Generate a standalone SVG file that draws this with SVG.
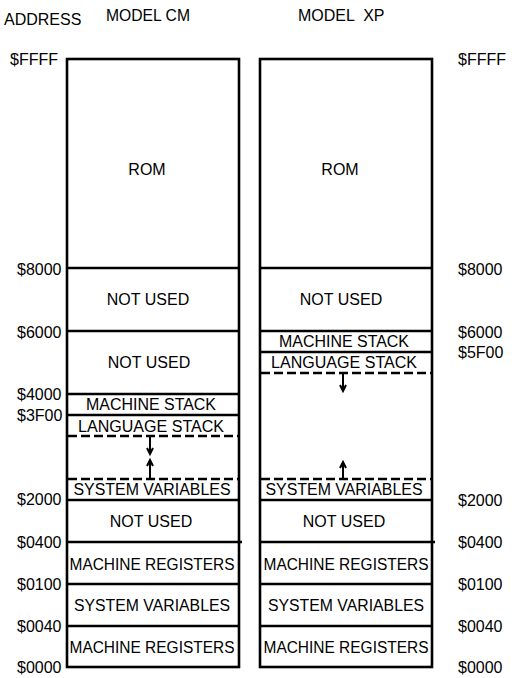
<svg xmlns="http://www.w3.org/2000/svg" width="520" height="678" viewBox="0 0 520 678">
<style>
text{font-family:"Liberation Sans",Arial,sans-serif;font-size:16px;fill:#000;white-space:pre}
.c{text-anchor:middle}
.ln{stroke:#000;stroke-width:2.5;fill:none}
.box{stroke:#000;stroke-width:2.6;fill:#fff}
.dash{stroke:#000;stroke-width:2.5;stroke-dasharray:9 4;fill:none}
.arr{stroke:#000;stroke-width:2;fill:none}
</style>
<rect width="520" height="678" fill="#fff"/>
<g id="headers">
<text x="4" y="25">ADDRESS</text>
<text x="106" y="21" textLength="84" lengthAdjust="spacingAndGlyphs">MODEL CM</text>
<text x="298" y="21">MODEL  XP</text>
</g>
<g id="addr-left">
<text x="10" y="65">$FFFF</text>
<text x="17" y="275">$8000</text>
<text x="17" y="338">$6000</text>
<text x="17" y="400">$4000</text>
<text x="17" y="421">$3F00</text>
<text x="17" y="505">$2000</text>
<text x="17" y="548">$0400</text>
<text x="17" y="590">$0100</text>
<text x="17" y="632">$0040</text>
<text x="17" y="673">$0000</text>
</g>
<g id="addr-right">
<text x="458" y="65">$FFFF</text>
<text x="458" y="275">$8000</text>
<text x="458" y="338">$6000</text>
<text x="458" y="358">$5F00</text>
<text x="458" y="506">$2000</text>
<text x="458" y="548">$0400</text>
<text x="458" y="590">$0100</text>
<text x="458" y="632">$0040</text>
<text x="458" y="673">$0000</text>
</g>
<g id="model-cm">
<rect class="box" x="67" y="59" width="172" height="608"/>
<path class="ln" d="M67 268H239M67 331H239M67 394H239M67 415H239M67 500H239M67 542H242M67 584H239M67 626H239"/>
<path class="dash" d="M68 436H238M68 479H238"/>
<text class="c" x="147" y="175">ROM</text>
<text class="c" x="148" y="305">NOT USED</text>
<text class="c" x="149" y="368">NOT USED</text>
<text class="c" x="151" y="410" textLength="130" lengthAdjust="spacingAndGlyphs">MACHINE STACK</text>
<text class="c" x="151" y="432" textLength="146" lengthAdjust="spacingAndGlyphs">LANGUAGE STACK</text>
<text class="c" x="152" y="495" textLength="157" lengthAdjust="spacingAndGlyphs">SYSTEM VARIABLES</text>
<text class="c" x="151" y="527">NOT USED</text>
<text class="c" x="152" y="570" textLength="165" lengthAdjust="spacingAndGlyphs">MACHINE REGISTERS</text>
<text class="c" x="152" y="611" textLength="156" lengthAdjust="spacingAndGlyphs">SYSTEM VARIABLES</text>
<text class="c" x="152" y="653" textLength="165" lengthAdjust="spacingAndGlyphs">MACHINE REGISTERS</text>
</g>
<g id="model-xp">
<rect class="box" x="260" y="59" width="172" height="608"/>
<path class="ln" d="M260 268H432M260 331H432M260 352H432M260 500H432M260 542H435M260 584H432M260 626H432"/>
<path class="dash" d="M261 373H431M261 479H431"/>
<text class="c" x="340" y="175">ROM</text>
<text class="c" x="341" y="305">NOT USED</text>
<text class="c" x="344" y="347" textLength="130" lengthAdjust="spacingAndGlyphs">MACHINE STACK</text>
<text class="c" x="344" y="368" textLength="146" lengthAdjust="spacingAndGlyphs">LANGUAGE STACK</text>
<text class="c" x="344" y="495" textLength="157" lengthAdjust="spacingAndGlyphs">SYSTEM VARIABLES</text>
<text class="c" x="344" y="527">NOT USED</text>
<text class="c" x="346" y="570" textLength="165" lengthAdjust="spacingAndGlyphs">MACHINE REGISTERS</text>
<text class="c" x="346" y="611" textLength="156" lengthAdjust="spacingAndGlyphs">SYSTEM VARIABLES</text>
<text class="c" x="346" y="653" textLength="165" lengthAdjust="spacingAndGlyphs">MACHINE REGISTERS</text>
</g>
<g id="connectors">
<path class="arr" d="M150 437V454M147 448L150 454L153 448"/>
<path class="arr" d="M150 478V460M147 466L150 460L153 466"/>
<path class="arr" d="M343 374V391M340 385L343 391L346 385"/>
<path class="arr" d="M343 478V462M340 468L343 462L346 468"/>
</g>
</svg>
